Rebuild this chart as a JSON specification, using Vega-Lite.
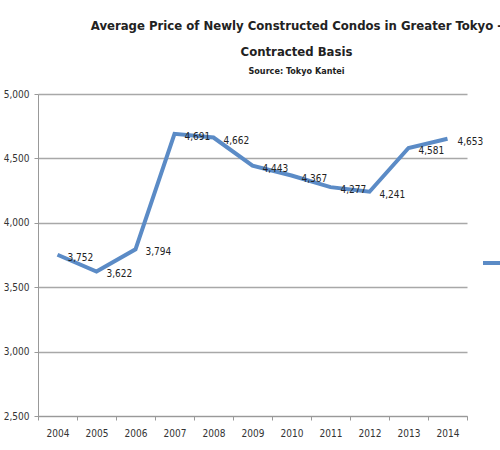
{
  "$schema": "https://vega.github.io/schema/vega-lite/v6.json",
  "width": 429,
  "height": 322,
  "autosize": "none",
  "padding": {"left": 38, "top": 94, "right": 33, "bottom": 34},
  "background": "white",
  "title": {
    "text": ["Average Price of Newly Constructed Condos in Greater Tokyo -", "Contracted Basis"],
    "subtitle": "Source: Tokyo Kantei",
    "anchor": "middle",
    "dx": 44,
    "font": "DejaVu Sans Condensed, sans-serif",
    "fontSize": 13,
    "fontWeight": "bold",
    "lineHeight": 26,
    "color": "#222222",
    "subtitleFont": "DejaVu Sans Condensed, sans-serif",
    "subtitleFontSize": 9,
    "subtitleFontWeight": "bold",
    "subtitleColor": "#222222",
    "subtitlePadding": 8,
    "offset": 13
  },
  "data": {
    "values": [
      {"year": "2004", "price": 3752, "series": "Average Price"},
      {"year": "2005", "price": 3622, "series": "Average Price"},
      {"year": "2006", "price": 3794, "series": "Average Price"},
      {"year": "2007", "price": 4691, "series": "Average Price"},
      {"year": "2008", "price": 4662, "series": "Average Price"},
      {"year": "2009", "price": 4443, "series": "Average Price"},
      {"year": "2010", "price": 4367, "series": "Average Price"},
      {"year": "2011", "price": 4277, "series": "Average Price"},
      {"year": "2012", "price": 4241, "series": "Average Price"},
      {"year": "2013", "price": 4581, "series": "Average Price"},
      {"year": "2014", "price": 4653, "series": "Average Price"}
    ]
  },
  "encoding": {
    "x": {
      "field": "year",
      "type": "ordinal",
      "scale": {"type": "band", "paddingInner": 0, "paddingOuter": 0},
      "axis": {
        "title": null,
        "labelAngle": 0,
        "tickBand": "extent",
        "tickSize": 4,
        "tickColor": "#999999",
        "domainColor": "#999999",
        "labelPadding": 8,
        "labelFont": "DejaVu Sans Condensed, sans-serif",
        "labelFontSize": 10,
        "labelColor": "#333333"
      }
    },
    "y": {
      "field": "price",
      "type": "quantitative",
      "scale": {"domain": [2500, 5000], "nice": false, "zero": false},
      "axis": {
        "title": null,
        "values": [2500, 3000, 3500, 4000, 4500, 5000],
        "format": ",d",
        "grid": true,
        "gridColor": "#a8a8a8",
        "gridWidth": 1.5,
        "tickSize": 4,
        "tickColor": "#999999",
        "domainColor": "#999999",
        "labelPadding": 5,
        "labelFont": "DejaVu Sans Condensed, sans-serif",
        "labelFontSize": 10,
        "labelColor": "#333333"
      }
    }
  },
  "layer": [
    {
      "mark": {"type": "line", "strokeWidth": 4},
      "encoding": {
        "color": {
          "field": "series",
          "type": "nominal",
          "scale": {"range": ["#5b8bc6"]},
          "legend": {
            "orient": "none",
            "legendX": 443,
            "legendY": 157,
            "title": null,
            "symbolType": "stroke",
            "symbolStrokeWidth": 4,
            "symbolSize": 400,
            "labelExpr": "''"
          }
        }
      }
    },
    {
      "mark": {
        "type": "text",
        "align": "left",
        "baseline": "middle",
        "dx": 10,
        "dy": 3,
        "font": "DejaVu Sans Condensed, sans-serif",
        "fontSize": 10,
        "color": "#222222"
      },
      "encoding": {
        "text": {"field": "price", "type": "quantitative", "format": ",d"}
      }
    }
  ],
  "config": {"view": {"stroke": null}}
}
